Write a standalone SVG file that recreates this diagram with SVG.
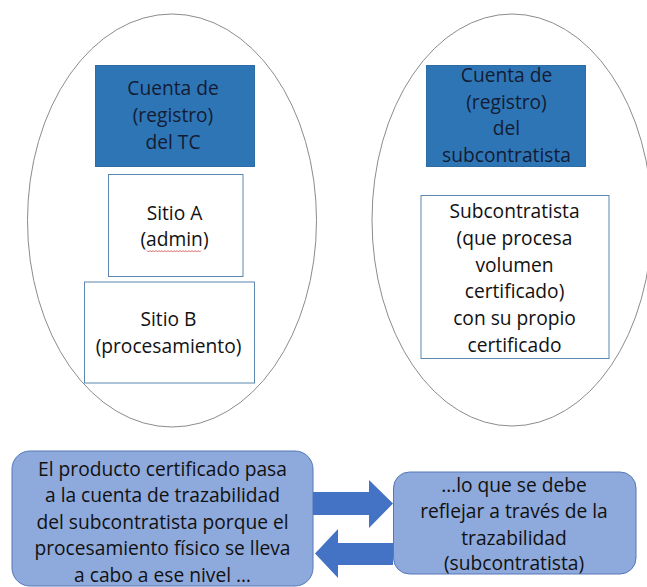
<svg xmlns="http://www.w3.org/2000/svg" width="647" height="587" viewBox="0 0 647 587">
<defs>
<style>
.oval{fill:#ffffff;stroke:#8c8c8c;stroke-width:1}
.dark{fill:#2E75B6;stroke:#2E6DA4;stroke-width:1}
.white{fill:#ffffff;stroke:#5B86AE;stroke-width:1}
.soft{fill:#8EA9DB;stroke:#5677B8;stroke-width:1}
.arrow{fill:#4472C4;stroke:none}
text{font-family:"Open Sans","Liberation Sans",sans-serif;font-size:19.2px;text-anchor:middle;fill:#111111}
.dt{fill:#131c33}
</style>
</defs>
<rect x="0" y="0" width="647" height="587" fill="#ffffff"/>
<g id="account-tc">
<ellipse class="oval" cx="172" cy="220.5" rx="144.5" ry="206.5"/>
</g>
<g id="account-sub">
<ellipse class="oval" cx="512" cy="220" rx="140" ry="206"/>
</g>
<g id="cuenta-tc">
<rect class="dark" x="95.5" y="65.5" width="159" height="101"/>
<text class="dt" x="173" y="95">Cuenta de</text>
<text class="dt" x="173" y="122">(registro)</text>
<text class="dt" x="173" y="148.5">del TC</text>
</g>
<g id="sitio-a">
<rect class="white" x="108.5" y="174.5" width="134.5" height="102"/>
<text x="174.5" y="220">Sitio A</text>
<text x="174.5" y="246">(admin)</text>
<path d="M147 250.5 l1.5 1.5 l1.5 -1.5 l1.5 1.5 l1.5 -1.5 l1.5 1.5 l1.5 -1.5 l1.5 1.5 l1.5 -1.5 l1.5 1.5 l1.5 -1.5 l1.5 1.5 l1.5 -1.5 l1.5 1.5 l1.5 -1.5 l1.5 1.5 l1.5 -1.5 l1.5 1.5 l1.5 -1.5 l1.5 1.5 l1.5 -1.5 l1.5 1.5 l1.5 -1.5 l1.5 1.5 l1.5 -1.5 l1.5 1.5 l1.5 -1.5 l1.5 1.5 l1.5 -1.5 l1.5 1.5 l1.5 -1.5 l1.5 1.5 l1.5 -1.5 l1.5 1.5 l1.5 -1.5 l1.5 1.5 l1.5 -1.5" fill="none" stroke="#d04040" stroke-width="0.8"/>
</g>
<g id="sitio-b">
<rect class="white" x="84.5" y="282" width="170" height="101"/>
<text x="168.5" y="325.5">Sitio B</text>
<text x="168.5" y="352.5">(procesamiento)</text>
</g>
<g id="cuenta-sub">
<rect class="dark" x="426.5" y="65.5" width="159" height="101"/>
<text class="dt" x="506.5" y="82">Cuenta de</text>
<text class="dt" x="506.5" y="108.5">(registro)</text>
<text class="dt" x="506.5" y="135">del</text>
<text class="dt" x="506.5" y="161.5">subcontratista</text>
</g>
<g id="subcontratista">
<rect class="white" x="421" y="195.5" width="188" height="163"/>
<text x="514.5" y="218">Subcontratista</text>
<text x="514.5" y="245">(que procesa</text>
<text x="514.5" y="271.5">volumen</text>
<text x="514.5" y="298">certificado)</text>
<text x="514.5" y="325">con su propio</text>
<text x="514.5" y="351.5">certificado</text>
</g>
<g id="producto">
<rect class="soft" x="12" y="451" width="301" height="135" rx="18"/>
<text x="162.5" y="475.5">El producto certificado pasa</text>
<text x="162.5" y="502">a la cuenta de trazabilidad</text>
<text x="162.5" y="528.5">del subcontratista porque el</text>
<text x="162.5" y="555">procesamiento físico se lleva</text>
<text x="162.5" y="581.5">a cabo a ese nivel …</text>
</g>
<g id="reflejar">
<rect class="soft" x="393.5" y="472" width="242.5" height="102" rx="16"/>
<text x="514" y="491.5">…lo que se debe</text>
<text x="514" y="518">reflejar a través de la</text>
<text x="514" y="545">trazabilidad</text>
<text x="514" y="570">(subcontratista)</text>
</g>
<g id="connectors">
<polygon class="arrow" points="313,492 369,492 369,480 393,503.5 369,528 369,515 313,515"/>
<polygon class="arrow" points="393,543 338,543 338,529 315,553.5 338,578 338,565 393,565"/>
</g>
</svg>
